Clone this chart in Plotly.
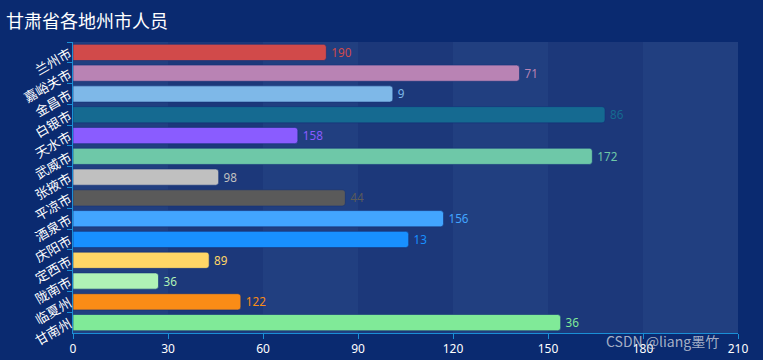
import plotly.graph_objects as go

title_text = "甘肃省各地州市人员"
categories = ["兰州市", "嘉峪关市", "金昌市", "白银市", "天水市", "武威市", "张掖市",
              "平凉市", "酒泉市", "庆阳市", "定西市", "陇南市", "临夏州", "甘南州"]
bar_values = [80, 141, 101, 168, 71, 164, 46, 86, 117, 106, 43, 27, 53, 154]
label_values = [190, 71, 9, 86, 158, 172, 98, 44, 156, 13, 89, 36, 122, 36]
colors = ["#d14a4a", "#b983b4", "#7eb8e8", "#156a91", "#8a5cff", "#6ec8a8", "#c0c0c0",
          "#5a5a5a", "#42a5ff", "#1890ff", "#ffd666", "#b0f2b6", "#fa8c16", "#80ea98"]
x_ticks = [0, 30, 60, 90, 120, 150, 180, 210]

BG = "#0a2a70"
AXIS = "#1a8fd6"
band_colors = ["#213f80", "#1c387a"]

fig = go.Figure()
fig.add_trace(go.Bar(
    y=categories, x=bar_values, orientation="h",
    marker=dict(color=colors, cornerradius=3,
                line=dict(color="rgba(20,50,120,0.6)", width=1)),
    text=["\u2009" + str(v) for v in label_values], textposition="outside",
    textfont=dict(color=colors, size=13, family="Noto Sans"),
    cliponaxis=False, hoverinfo="skip", width=0.78,
))

shapes = []
for i in range(len(x_ticks) - 1):
    shapes.append(dict(type="rect", xref="x", yref="paper",
                       x0=x_ticks[i], x1=x_ticks[i + 1], y0=0, y1=1,
                       fillcolor=band_colors[i % 2], line=dict(width=0), layer="below"))
fig.update_layout(shapes=shapes)

fig.add_annotation(text=title_text, xref="paper", yref="paper", x=-0.104, y=1.075,
                   xanchor="left", yanchor="middle", showarrow=False,
                   font=dict(color="#ffffff", size=18, family="Noto Sans CJK SC"))
fig.add_annotation(text="CSDN @liang墨竹", xref="paper", yref="paper", x=0.975, y=-0.027,
                   xanchor="right", yanchor="middle", showarrow=False,
                   font=dict(color="rgba(205,210,222,0.8)", size=14, family="Noto Sans CJK SC"))

fig.update_layout(
    width=763, height=360,
    margin=dict(l=73, r=25, t=42, b=27, autoexpand=False),
    paper_bgcolor=BG, plot_bgcolor=BG,
    showlegend=False,
    bargap=0.22,
    font=dict(family="Noto Sans CJK SC", color="#ffffff"),
    xaxis=dict(range=[0, 210], tickvals=x_ticks, showgrid=False, zeroline=False,
               showline=True, linecolor=AXIS, linewidth=1, automargin=False,
               ticks="outside", ticklen=5, tickcolor=AXIS,
               tickfont=dict(color="#ffffff", size=12, family="Noto Sans")),
    yaxis=dict(autorange="reversed", categoryorder="array", categoryarray=categories,
               showgrid=False, zeroline=False, showline=True, linecolor=AXIS, linewidth=1,
               ticks="outside", ticklen=5, tickcolor=AXIS, tickson="boundaries",
               tickangle=-30, automargin=False,
               tickfont=dict(color="#ffffff", size=13, family="Noto Sans CJK SC")),
)

fig.write_html("out.html", config={"displayModeBar": False},
               post_script="document.body.style.margin='0';document.body.style.background='" + BG + "';")
